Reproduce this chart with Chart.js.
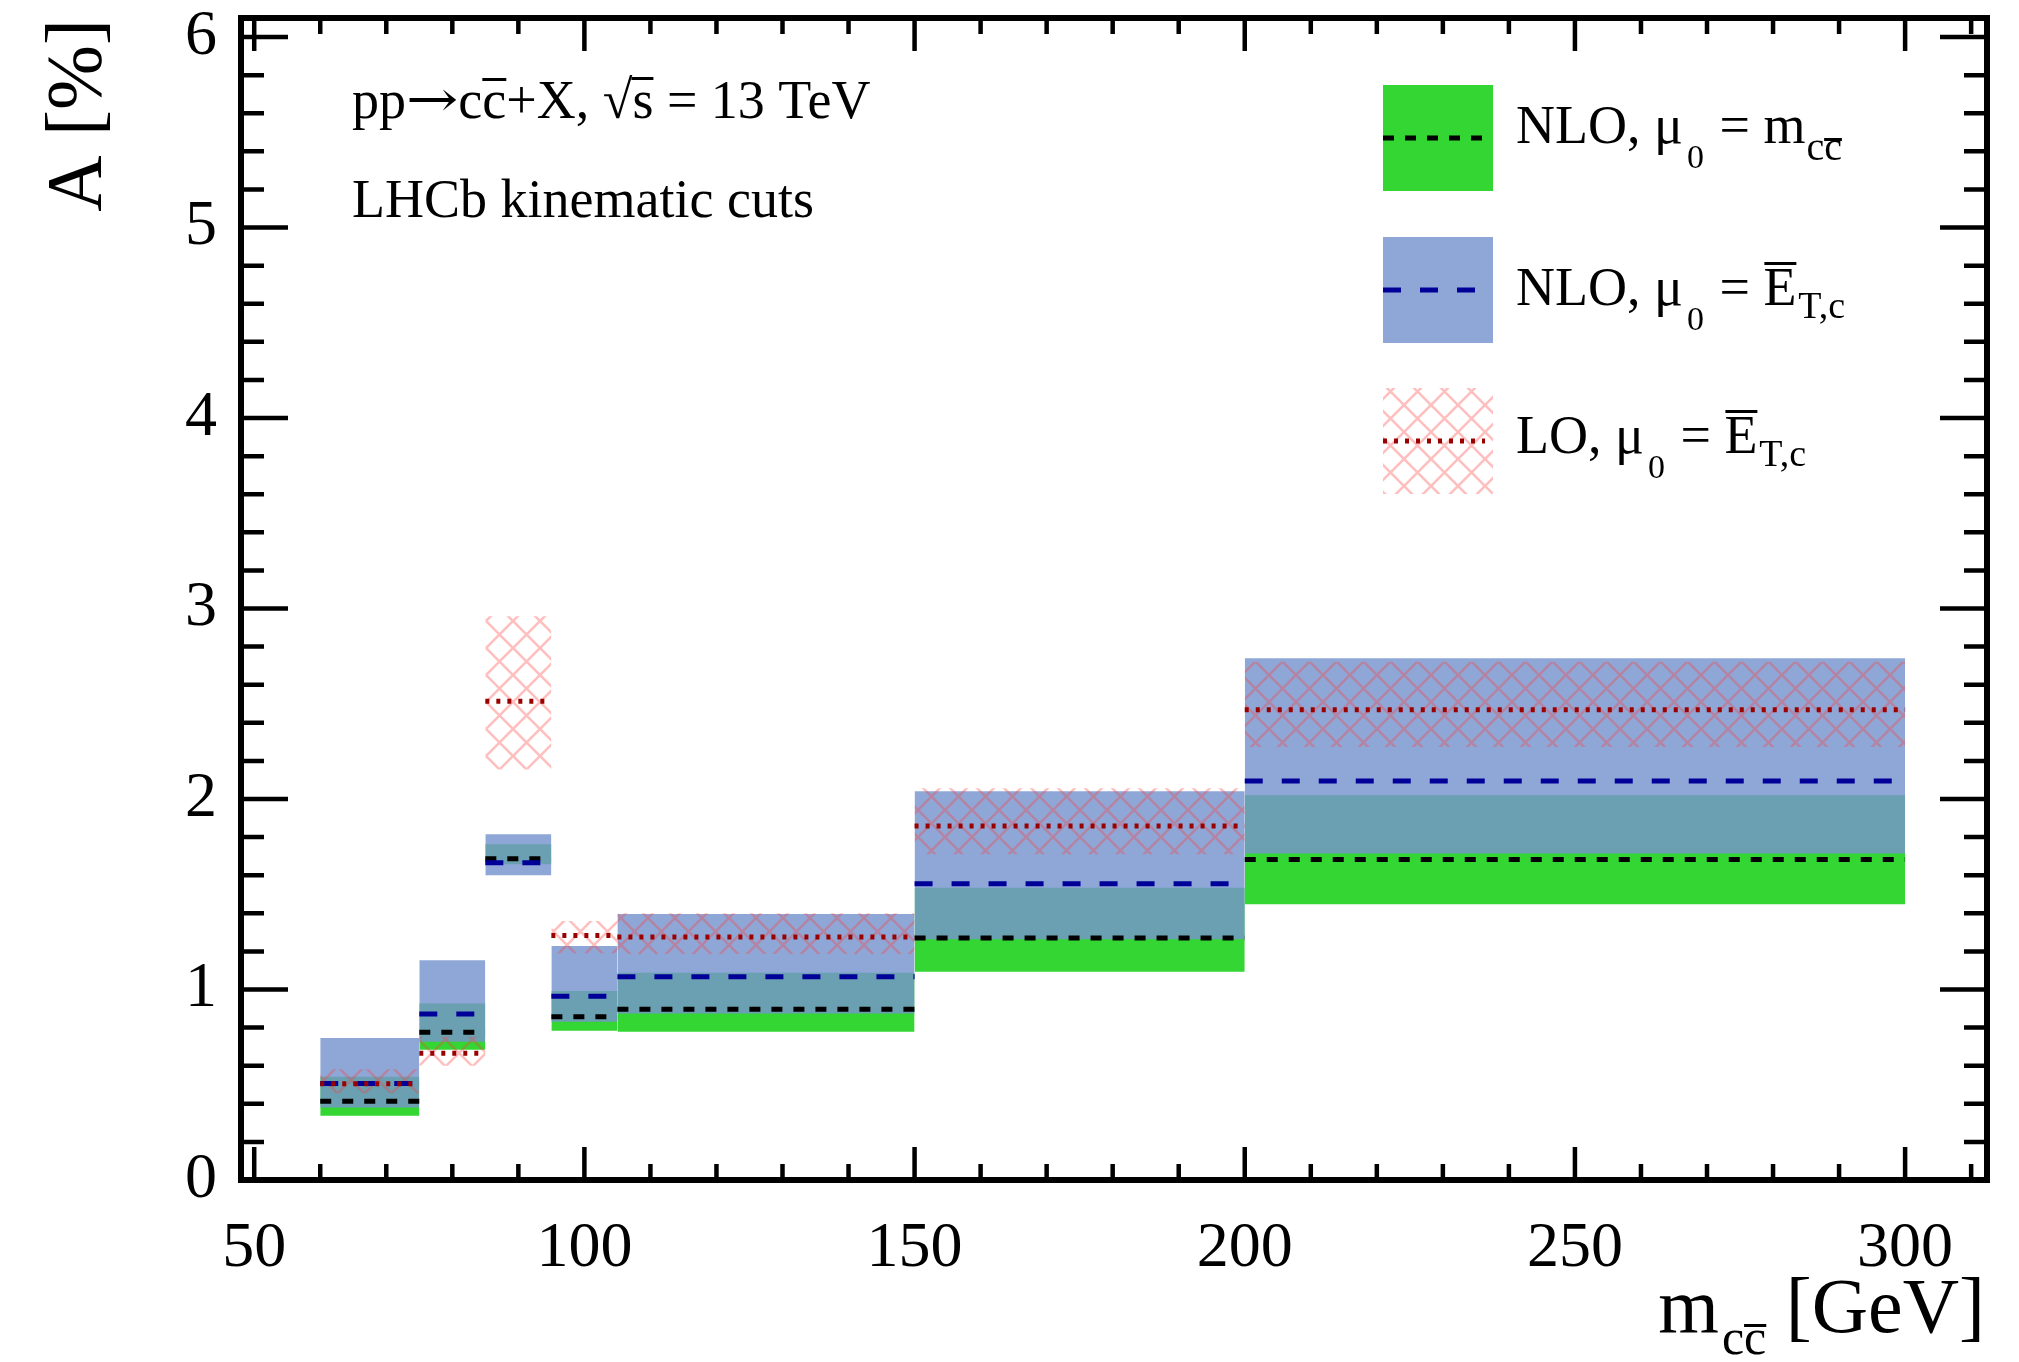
<!DOCTYPE html>
<html>
<head>
<meta charset="utf-8">
<script src="https://cdn.jsdelivr.net/npm/chart.js@4.4.1/dist/chart.umd.min.js"></script>
<style>
html,body{margin:0;padding:0;background:#fff;}
#wrap{width:2019px;height:1362px;position:relative;}
</style>
</head>
<body>
<div id="wrap"><canvas id="c" width="2019" height="1362"></canvas></div>
<script>
// ---------------- data ----------------
const binEdges = [60, 75, 85, 95, 105, 150, 200, 300];

// NLO, mu0 = m_ccbar (green band, black dashed central)
const nloMccCentral = [0.414, 0.775, 1.686, 0.857, 0.897, 1.270, 1.683];
const nloMccLow     = [0.337, 0.684, 1.658, 0.784, 0.778, 1.093, 1.448];
const nloMccHigh    = [0.542, 0.927, 1.763, 0.992, 1.088, 1.534, 2.020];

// NLO, mu0 = E_T,c (blue band, blue dashed central)
const nloEtCentral  = [0.507, 0.871, 1.665, 0.964, 1.067, 1.555, 2.095];
const nloEtLow      = [0.381, 0.726, 1.600, 0.831, 0.874, 1.264, 1.714];
const nloEtHigh     = [0.745, 1.154, 1.815, 1.228, 1.396, 2.041, 2.739];

// LO, mu0 = E_T,c (hatched band, red dotted central)
const loEtCentral   = [0.505, 0.665, 2.513, 1.284, 1.275, 1.859, 2.469];
const loEtLow       = [0.455, 0.600, 2.155, 1.190, 1.186, 1.710, 2.273];
const loEtHigh      = [0.581, 0.752, 2.959, 1.360, 1.400, 2.057, 2.720];

const xTickLabels = [50, 100, 150, 200, 250, 300];
const yTickLabels = [0, 1, 2, 3, 4, 5, 6];

const SERIF = "'Liberation Serif', 'Times New Roman', Times, serif";

// ---------------- styles ----------------
const GREEN = '#34d634';
const BLUE_BAND = 'rgba(118,148,206,0.82)';
const BLACK = '#000000';
const NAVY = '#000099';
const DARKRED = '#990000';

function makeHatch() {
  const s = 27;
  const pc = document.createElement('canvas');
  pc.width = s; pc.height = s;
  const g = pc.getContext('2d');
  g.strokeStyle = 'rgba(255,60,60,0.33)';
  g.lineWidth = 2.6;
  g.beginPath();
  for (const d of [-s, 0, s]) {
    g.moveTo(d, 0); g.lineTo(d + s, s);
    g.moveTo(d + s, 0); g.lineTo(d, s);
  }
  g.stroke();
  return document.getElementById('c').getContext('2d').createPattern(pc, 'repeat');
}
const HATCH = makeHatch();

function boxDatasets(lo, hi, color, order) {
  return lo.map((l, i) => ({
    type: 'line',
    data: [{x: binEdges[i], y: hi[i]}, {x: binEdges[i + 1], y: hi[i]}],
    fill: {value: l},
    backgroundColor: color,
    borderColor: 'rgba(0,0,0,0)',
    borderWidth: 0,
    pointRadius: 0,
    order: order
  }));
}
function centralDataset(c, color, dash, order) {
  const data = [];
  c.forEach((v, i) => {
    data.push({x: binEdges[i], y: v}, {x: binEdges[i + 1], y: v}, {x: binEdges[i + 1], y: null});
  });
  return {
    type: 'line', data, borderColor: color, borderWidth: 5, borderDash: dash,
    borderCapStyle: 'butt', pointRadius: 0, fill: false, spanGaps: false, order: order
  };
}

const datasets = [
  ...boxDatasets(nloMccLow, nloMccHigh, GREEN, 10),
  ...boxDatasets(nloEtLow, nloEtHigh, BLUE_BAND, 9),
  ...boxDatasets(loEtLow, loEtHigh, HATCH, 8),
  centralDataset(nloMccCentral, BLACK, [11, 11], 3),
  centralDataset(nloEtCentral, NAVY, [18, 19], 2),
  centralDataset(loEtCentral, DARKRED, [4, 7], 1)
];

// ---------------- text helpers ----------------
function drawParts(ctx, x, y, parts, align) {
  let total = 0;
  for (const p of parts) {
    ctx.font = p.size + 'px ' + (p.fam || SERIF);
    total += (p.gap || 0) + ctx.measureText(p.t).width * (p.sx || 1);
  }
  let cx = align === 'right' ? x - total : x;
  for (const p of parts) {
    cx += p.gap || 0;
    ctx.font = p.size + 'px ' + (p.fam || SERIF);
    const sx = p.sx || 1;
    const w = ctx.measureText(p.t).width * sx;
    const by = y + (p.dy || 0);
    if (sx !== 1) {
      ctx.save();
      ctx.translate(cx, by);
      ctx.scale(sx, 1);
      ctx.fillText(p.t, 0, 0);
      ctx.restore();
    } else {
      ctx.fillText(p.t, cx, by);
    }
    if (p.over !== undefined) {
      ctx.fillRect(cx + (p.ox0 || 0), by - p.over, w - (p.ox0 || 0) - (p.ox1 || 0), p.ow || 3);
    }
    cx += w;
  }
  return total;
}

const legendEntries = [
  {parts: [{t: 'NLO, μ', size: 54}, {t: '0', size: 34, dy: 25, gap: 4}, {t: ' = m', size: 54, gap: 2},
           {t: 'c', size: 40, dy: 17, gap: 1}, {t: 'c', size: 40, dy: 17, over: 22}],
   fill: GREEN, line: BLACK, dash: [11, 11]},
  {parts: [{t: 'NLO, μ', size: 54}, {t: '0', size: 34, dy: 25, gap: 4}, {t: ' = ', size: 54, gap: 2},
           {t: 'E', size: 54, over: 43, ox0: 1}, {t: 'T,c', size: 38, dy: 13, gap: 2}],
   fill: BLUE_BAND, line: NAVY, dash: [18, 19]},
  {parts: [{t: 'LO, μ', size: 54}, {t: '0', size: 34, dy: 25, gap: 4}, {t: ' = ', size: 54, gap: 2},
           {t: 'E', size: 54, over: 43, ox0: 1}, {t: 'T,c', size: 38, dy: 13, gap: 2}],
   fill: HATCH, line: DARKRED, dash: [4, 7]}
];

const decorPlugin = {
  id: 'decor',
  afterDraw(chart) {
    const ctx = chart.ctx;
    const a = chart.chartArea;
    const xs = chart.scales.x, ys = chart.scales.y;
    ctx.save();
    // inward ticks
    ctx.strokeStyle = '#000';
    ctx.lineWidth = 4.5;
    ctx.lineCap = 'butt';
    ctx.beginPath();
    for (let v = 50; v <= 310; v += 10) {
      const px = xs.getPixelForValue(v);
      const L = (v % 50 === 0) ? 33 : 16;
      ctx.moveTo(px, a.bottom); ctx.lineTo(px, a.bottom - L);
      ctx.moveTo(px, a.top); ctx.lineTo(px, a.top + L);
    }
    for (let k = 0; k <= 30; k++) {
      const py = ys.getPixelForValue(k * 0.2);
      const L = (k % 5 === 0) ? 47 : 23;
      ctx.moveTo(a.left, py); ctx.lineTo(a.left + L, py);
      ctx.moveTo(a.right, py); ctx.lineTo(a.right - L, py);
    }
    ctx.stroke();
    // frame
    ctx.lineWidth = 6;
    ctx.strokeRect(a.left, a.top, a.right - a.left, a.bottom - a.top);

    // annotation text
    ctx.fillStyle = '#000';
    ctx.textAlign = 'left';
    ctx.textBaseline = 'alphabetic';
    drawParts(ctx, 352, 118, [
      {t: 'pp', size: 54}, {t: '→', size: 50, fam: "'DejaVu Serif', serif", sx: 1.25, dy: -2},
      {t: 'c', size: 54}, {t: 'c', size: 54, over: 40}, {t: '+X, ', size: 54},
      {t: '√', size: 54}, {t: 's', size: 54, over: 41, ox0: -1}, {t: ' = 13 TeV', size: 54}
    ]);
    drawParts(ctx, 352, 217, [{t: 'LHCb kinematic cuts', size: 54}]);

    // legend
    const boxX = 1383, boxW = 110, boxH = 106;
    const boxY = [85, 237, 388];
    const baseY = [143, 305, 453];
    legendEntries.forEach((e, i) => {
      ctx.fillStyle = e.fill;
      ctx.fillRect(boxX, boxY[i], boxW, boxH);
      ctx.strokeStyle = e.line;
      ctx.lineWidth = 5;
      ctx.setLineDash(e.dash);
      ctx.beginPath();
      const ly = boxY[i] + boxH / 2;
      ctx.moveTo(boxX, ly); ctx.lineTo(boxX + 102, ly);
      ctx.stroke();
      ctx.setLineDash([]);
      ctx.fillStyle = '#000';
      drawParts(ctx, 1516, baseY[i], e.parts);
    });

    // x-axis title
    drawParts(ctx, 1985, 1332, [
      {t: 'm', size: 78}, {t: 'c', size: 50, dy: 22, gap: 3}, {t: 'c', size: 50, dy: 22, over: 30},
      {t: ' [GeV]', size: 78}
    ], 'right');

    // y-axis title
    ctx.save();
    ctx.translate(100, 19);
    ctx.rotate(-Math.PI / 2);
    ctx.font = '78px ' + SERIF;
    ctx.textAlign = 'right';
    ctx.fillText('A [%]', 0, 0);
    ctx.restore();

    ctx.restore();
  }
};

new Chart(document.getElementById('c'), {
  type: 'line',
  data: {datasets},
  options: {
    responsive: false,
    animation: false,
    devicePixelRatio: 1,
    layout: {padding: {left: 0, top: 18, right: 32, bottom: 0}},
    plugins: {legend: {display: false}, tooltip: {enabled: false}},
    scales: {
      x: {
        type: 'linear', min: 48, max: 312.4,
        grid: {display: false}, border: {display: false},
        afterBuildTicks(s) { s.ticks = xTickLabels.map(v => ({value: v})); },
        afterFit(s) { s.height = 182; s.paddingLeft = 0; s.paddingRight = 0; s.paddingTop = 0; s.paddingBottom = 0; },
        ticks: {font: {family: SERIF, size: 64}, color: '#000', padding: 23, maxRotation: 0, autoSkip: false}
      },
      y: {
        type: 'linear', min: 0, max: 6.1,
        grid: {display: false}, border: {display: false},
        afterBuildTicks(s) { s.ticks = yTickLabels.map(v => ({value: v})); },
        afterFit(s) { s.width = 241; s.paddingLeft = 0; s.paddingRight = 0; s.paddingTop = 0; s.paddingBottom = 0; },
        ticks: {font: {family: SERIF, size: 64}, color: '#000', padding: 16, autoSkip: false}
      }
    }
  },
  plugins: [decorPlugin]
});
</script>
</body>
</html>
